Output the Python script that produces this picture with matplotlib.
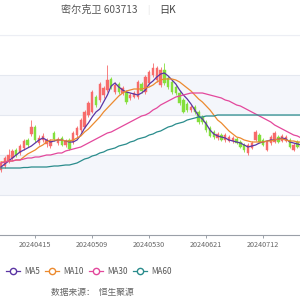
import matplotlib
matplotlib.use("Agg")
import matplotlib.pyplot as plt
from matplotlib.lines import Line2D
from matplotlib.patches import Rectangle

plt.rcParams['font.family'] = ['Noto Sans CJK SC', 'DejaVu Sans']

# ── trading days shown (plus a few after the data, for the last tick) ──
TRADE_DAYS = {
    "202403": [29],
    "202404": [1, 2, 3, 8, 9, 10, 11, 12, 15, 16, 17, 18, 19, 22, 23, 24, 25, 26, 29, 30],
    "202405": [6, 7, 8, 9, 10, 13, 14, 15, 16, 17, 20, 21, 22, 23, 24, 27, 28, 29, 30, 31],
    "202406": [3, 4, 5, 6, 7, 11, 12, 13, 14, 17, 18, 19, 20, 21, 24, 25, 26, 27, 28],
    "202407": [1, 2, 3, 4, 5, 8, 9, 10, 11, 12, 15, 16, 17, 18, 19, 22, 23, 24, 25, 26, 29, 30, 31],
    "202408": [1, 2],
}
dates = [f"{ym}{d:02d}" for ym, days in TRADE_DAYS.items() for d in days]
TICK_DATES = ["20240415", "20240509", "20240530", "20240621", "20240712", "20240802"]

# ── daily K (open, close, high, low) ──
OPEN = [46.0, 46.8, 47.6, 48.4, 50.0, 49.4, 50.4, 52.0, 53.2, 54.6,
        51.4, 52.0, 51.2, 50.8, 53.4, 51.4, 52.4, 51.0, 52.0, 51.6,
        53.0, 54.0, 54.6, 57.0, 57.6, 60.6, 60.0, 61.0, 62.0, 64.2,
        61.6, 63.2, 61.4, 61.6, 60.4, 60.6, 60.6, 63.2, 61.6, 63.4,
        65.0, 64.0, 63.0, 66.0, 64.4, 63.6, 62.6, 61.4, 60.0, 59.2,
        58.0, 58.6, 57.6, 56.6, 55.6, 54.4, 53.6, 52.4, 53.0, 52.0,
        51.8, 51.8, 52.2, 51.6, 51.0, 49.4, 50.4, 52.0, 53.0, 52.0,
        50.0, 51.4, 51.6, 52.6, 51.8, 51.8, 52.0, 50.0, 51.6, 50.4]
CLOSE = [47.4, 48.4, 49.0, 49.8, 49.0, 50.8, 51.8, 51.0, 54.6, 52.0,
         52.4, 52.8, 52.0, 51.8, 52.2, 52.2, 51.0, 51.8, 50.2, 53.4,
         54.4, 56.0, 57.6, 59.4, 61.6, 59.0, 63.2, 62.4, 64.0, 62.6,
         63.0, 61.6, 62.4, 59.6, 61.0, 61.4, 63.6, 61.8, 64.6, 65.6,
         66.4, 66.4, 66.0, 63.4, 62.6, 61.6, 61.4, 59.4, 57.6, 58.0,
         58.6, 57.6, 55.6, 55.6, 54.0, 52.8, 52.6, 53.2, 52.0, 53.0,
         52.6, 52.4, 51.4, 50.6, 50.0, 51.0, 51.4, 53.6, 51.6, 51.0,
         51.6, 52.6, 53.4, 51.6, 52.8, 52.6, 50.6, 51.0, 50.6, 51.2]
HIGH = [47.8, 48.8, 50.2, 50.2, 50.4, 51.2, 52.2, 52.4, 56.0, 55.0,
        53.0, 53.4, 52.4, 52.2, 53.8, 52.6, 52.8, 52.2, 52.4, 53.8,
        54.8, 56.4, 58.0, 59.8, 62.0, 61.0, 63.6, 62.8, 67.0, 64.6,
        63.6, 63.6, 62.8, 62.0, 61.4, 61.8, 64.0, 63.6, 65.0, 66.0,
        67.4, 66.8, 66.6, 67.4, 64.8, 64.0, 63.0, 61.8, 60.4, 59.6,
        59.0, 59.0, 58.0, 57.0, 56.0, 54.8, 54.0, 53.6, 53.4, 53.4,
        53.0, 52.8, 52.6, 52.0, 51.4, 51.4, 51.8, 54.0, 53.4, 52.4,
        52.0, 53.0, 53.8, 53.0, 53.2, 53.0, 52.4, 51.4, 52.0, 51.6]
LOW = [45.6, 46.4, 47.4, 48.0, 48.6, 49.0, 50.0, 50.6, 52.8, 51.6,
       51.0, 51.6, 50.6, 50.4, 51.8, 51.0, 50.8, 50.6, 50.0, 51.2,
       52.6, 53.6, 54.4, 56.6, 57.4, 58.6, 59.6, 60.4, 61.6, 62.2,
       61.2, 61.2, 61.0, 59.2, 60.0, 60.4, 60.2, 61.4, 61.2, 63.0,
       64.6, 63.6, 62.6, 63.0, 62.2, 61.2, 61.0, 59.0, 57.4, 57.6,
       57.6, 57.2, 55.2, 55.2, 53.6, 52.6, 52.2, 52.0, 51.8, 51.6,
       51.6, 51.4, 51.2, 50.4, 49.6, 49.0, 50.2, 51.8, 51.4, 50.8,
       49.8, 51.0, 51.4, 51.4, 51.6, 51.6, 50.4, 49.8, 50.4, 50.2]

# ── moving averages ──
MA5 = [46.6, 47.2, 47.8, 48.4, 49.0, 49.6, 50.0, 50.4, 50.8, 51.4,
       52.0, 52.4, 52.0, 51.6, 51.8, 52.0, 52.0, 51.8, 51.6, 51.6,
       52.0, 53.0, 54.4, 55.4, 56.6, 57.6, 58.2, 59.6, 61.0, 62.8,
       63.4, 62.6, 62.0, 61.6, 61.4, 61.2, 61.0, 61.4, 62.0, 63.2,
       63.8, 64.6, 65.2, 65.4, 64.8, 64.0, 63.2, 62.0, 61.0, 60.2,
       59.2, 58.0, 56.8, 56.2, 55.2, 54.0, 53.2, 52.8, 52.6, 52.4,
       52.0, 51.8, 51.6, 51.4, 51.0, 50.6, 50.8, 51.0, 51.4, 51.6,
       51.8, 52.0, 52.0, 52.2, 52.4, 52.2, 51.6, 51.4, 51.2, 51.0]
MA10 = [47.6, 47.6, 47.8, 47.8, 48.0, 48.0, 48.6, 49.2, 49.6, 50.0,
        50.6, 51.0, 51.6, 52.0, 52.0, 52.0, 52.0, 51.8, 51.8, 52.0,
        52.4, 52.8, 53.6, 54.2, 55.0, 55.8, 56.6, 57.6, 58.4, 59.2,
        60.0, 60.8, 61.4, 61.8, 62.0, 62.2, 62.2, 62.2, 62.4, 62.6,
        63.0, 63.6, 64.0, 64.2, 64.2, 64.2, 64.0, 63.6, 63.0, 62.4,
        61.8, 61.0, 60.2, 59.6, 58.8, 58.0, 57.0, 56.0, 55.4, 54.6,
        53.8, 53.2, 52.6, 52.4, 52.0, 51.8, 51.6, 51.6, 51.6, 51.6,
        51.8, 51.8, 52.0, 52.2, 52.2, 52.0, 51.8, 51.8, 51.6, 51.6]
MA30 = [47.4, 47.6, 47.8, 47.8, 48.0, 48.0, 48.2, 48.4, 48.4, 48.6,
        48.6, 48.8, 49.0, 49.0, 49.2, 49.4, 49.4, 49.8, 50.0, 50.2,
        50.4, 50.6, 51.0, 51.4, 51.8, 52.2, 52.6, 53.0, 53.4, 53.6,
        54.0, 54.4, 54.8, 55.2, 55.6, 56.0, 56.4, 56.8, 57.0, 57.4,
        58.0, 58.4, 59.0, 59.4, 59.8, 60.2, 60.6, 60.8, 61.0, 61.2,
        61.4, 61.4, 61.4, 61.4, 61.2, 61.0, 60.8, 60.6, 60.4, 60.0,
        59.8, 59.4, 59.0, 58.8, 58.4, 58.0, 57.6, 57.2, 56.8, 56.4,
        56.0, 55.6, 55.0, 54.6, 54.2, 53.8, 53.4, 53.0, 52.8, 52.4]
MA60 = [46.4, 46.4, 46.4, 46.4, 46.4, 46.4, 46.5, 46.5, 46.6, 46.6,
        46.6, 46.6, 46.6, 46.7, 46.8, 46.8, 46.9, 47.0, 47.0, 47.2,
        47.4, 47.8, 48.2, 48.4, 48.8, 49.0, 49.4, 49.6, 50.0, 50.2,
        50.4, 50.8, 51.0, 51.2, 51.6, 51.8, 52.2, 52.4, 52.6, 53.0,
        53.2, 53.6, 53.8, 54.2, 54.6, 54.8, 55.2, 55.4, 55.6, 56.0,
        56.2, 56.4, 56.6, 56.6, 56.8, 56.8, 56.8, 57.0, 57.0, 57.0,
        57.0, 57.0, 57.0, 57.0, 57.0, 57.0, 57.0, 57.0, 57.0, 57.0,
        57.0, 57.0, 57.0, 57.0, 57.0, 57.0, 57.0, 57.0, 57.0, 57.0]

MA_NAMES  = ["MA5", "MA10", "MA30", "MA60"]
MA_COLORS = ["#5b35a3", "#ec8a2f", "#e3489c", "#2a8c8c"]

UP, DOWN = "#f76b6b", "#84df3c"
GRID_Y = [33, 41, 49, 57, 65, 73]

# ─────────────────────────────────────────────
fig = plt.figure(figsize=(3, 3), dpi=100)
ax = fig.add_axes([0.0, 1 - 235 / 300, 1.0, 200 / 300])

n = len(OPEN)
ax.set_xlim(-0.26, 78.68)
ax.set_ylim(GRID_Y[0], GRID_Y[-1])

# alternating split areas
for k in range(len(GRID_Y) - 1):
    if k % 2 == 1:
        ax.axhspan(GRID_Y[k], GRID_Y[k + 1], color="#f4f6fb", lw=0, zorder=0)
for g in GRID_Y[1:]:
    ax.axhline(g, color="#e4e8f0", lw=0.8, zorder=0.5)

# candles
w = 0.62
for i in range(n):
    o, c, h, l = OPEN[i], CLOSE[i], HIGH[i], LOW[i]
    col = UP if c >= o else DOWN
    ax.vlines(i, l, h, color=col, lw=0.6, zorder=2)
    ax.add_patch(Rectangle((i - w / 2, min(o, c)), w, max(abs(c - o), 0.15),
                           facecolor=col, edgecolor=col, lw=0.3, zorder=2))

for vals, col in zip([MA5, MA10, MA30, MA60], MA_COLORS):
    ax.plot(range(n), vals, color=col, lw=0.9, zorder=3)

# x axis
for s in ["top", "right", "left"]:
    ax.spines[s].set_visible(False)
ax.spines["bottom"].set_color("#9aa0a8")
ax.spines["bottom"].set_linewidth(0.8)
ax.set_yticks([])
tick_pos = [dates.index(d) for d in TICK_DATES]
ax.set_xticks(tick_pos[:-1])
ax.set_xticklabels(TICK_DATES[:-1], fontsize=5.2, color="#666666")
ax.tick_params(axis="x", length=2.5, width=0.7, color="#9aa0a8", pad=2)
# last tick falls just off the right edge
ax.text(tick_pos[-1], -0.035, TICK_DATES[-1], transform=ax.get_xaxis_transform(),
        ha="center", va="top", fontsize=5.2, color="#666666", clip_on=False)

# title
fig.text(61 / 300, 1 - 10 / 300, "密尔克卫 603713", fontsize=7.3, color="#555555",
         va="center", ha="left")
fig.text(148 / 300, 1 - 10 / 300, "|", fontsize=6, color="#dddddd", va="center", ha="center")
fig.text(159 / 300, 1 - 10 / 300, "日K", fontsize=7.3, color="#444444", va="center", ha="left")
fig.add_artist(Line2D([0, 1], [1 - 35 / 300, 1 - 35 / 300], color="#eceef4", lw=0.8))

# legend
handles = [Line2D([], [], color=c, lw=0.9, marker="o", markersize=4.5,
                  markerfacecolor="white", markeredgewidth=1.0) for c in MA_COLORS]
fig.legend(handles, MA_NAMES, loc="center left", bbox_to_anchor=(6 / 300, 1 - 271 / 300),
           ncol=4, frameon=False, fontsize=5.8, handlelength=1.75, handletextpad=0.5,
           columnspacing=0.65, borderpad=0, borderaxespad=0, labelcolor="#555555")

fig.text(51 / 300, 1 - 293 / 300, "数据来源：  恒生聚源", fontsize=6.3, color="#666666",
         va="center", ha="left")

fig.savefig("out.png", dpi=100)
